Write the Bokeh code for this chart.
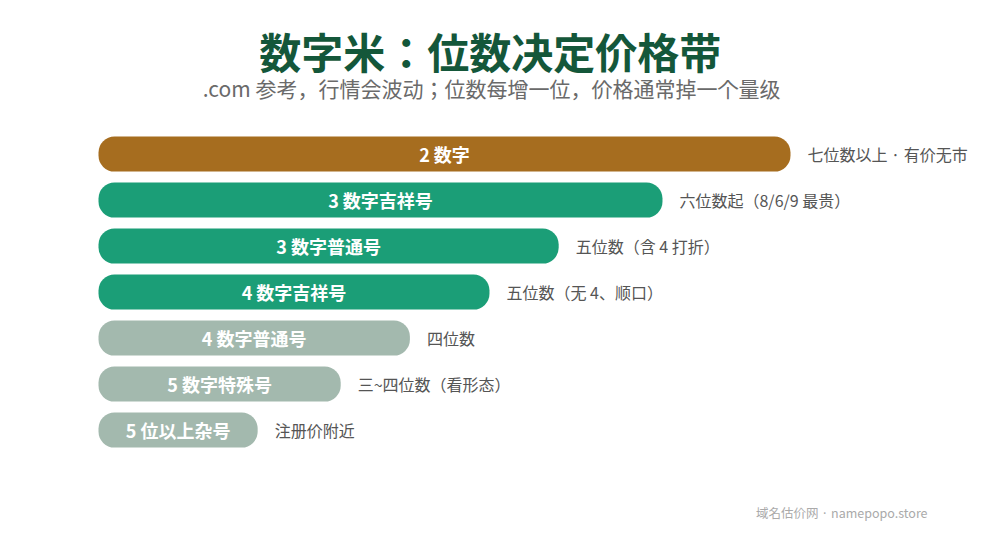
from bokeh.plotting import figure
from bokeh.models import Range1d, ColumnDataSource
from bokeh.core.properties import value
from bokeh.embed import file_html
from bokeh.resources import INLINE

# data
categories = ["2 数字", "3 数字吉祥号", "3 数字普通号", "4 数字吉祥号",
              "4 数字普通号", "5 数字特殊号", "5 位以上杂号"]
price_bands = ["七位数以上 · 有价无市", "六位数起（8/6/9 最贵）", "五位数（含 4 打折）",
               "五位数（无 4、顺口）", "四位数", "三~四位数（看形态）", "注册价附近"]
scores = [100, 81.5, 66.5, 56.5, 45, 35, 23]
tiers = ["top", "high", "high", "high", "low", "low", "low"]
tier_colors = {"top": "#A66D1F", "high": "#1B9E77", "low": "#A3B9AE"}

title = "数字米：位数决定价格带"
subtitle = ".com 参考，行情会波动；位数每增一位，价格通常掉一个量级"
footer = "域名估价网 · namepopo.store"

FONT = "Noto Sans CJK JP"

source = ColumnDataSource(data=dict(
    y=list(range(len(categories))),
    score=scores,
    mid=[s / 2 for s in scores],
    name=categories,
    band=price_bands,
    color=[tier_colors[t] for t in tiers],
))

p = figure(width=981, height=534, output_backend="svg", toolbar_location=None,
           x_range=Range1d(-14.162, 127.6), y_range=Range1d(8.27, -3.339),
           min_border=0, background_fill_color="white", border_fill_color="white")
p.axis.visible = False
p.grid.visible = False
p.outline_line_color = None

p.hbar(y="y", left=0, right="score", height=0.76, color="color", line_color=None,
       border_radius=16, source=source)

p.text(x="mid", y="y", text="name", source=source, text_color="white",
       text_font=value(FONT), text_font_style="bold", text_font_size="18px",
       text_align="center", text_baseline="middle")

p.text(x="score", y="y", text="band", source=source, text_color="#555555",
       text_font=value(FONT), text_font_size="16px", x_offset=17,
       text_align="left", text_baseline="middle")

# titles
p.text(x=[56.6], y=[-2.25], text=[title], text_color="#14573A",
       text_font=value(FONT), text_font_style="bold", text_font_size="42px",
       text_align="center", text_baseline="middle")
p.text(x=[56.8], y=[-1.43], text=[subtitle], text_color="#6A6A6A",
       text_font=value(FONT), text_font_size="21px",
       text_align="center", text_baseline="middle")
p.text(x=[119.8], y=[7.793], text=[footer], text_color="#AAAAAA",
       text_font=value(FONT), text_font_size="12.5px",
       text_align="right", text_baseline="middle")

open("out.html", "w").write(file_html(p, INLINE))
